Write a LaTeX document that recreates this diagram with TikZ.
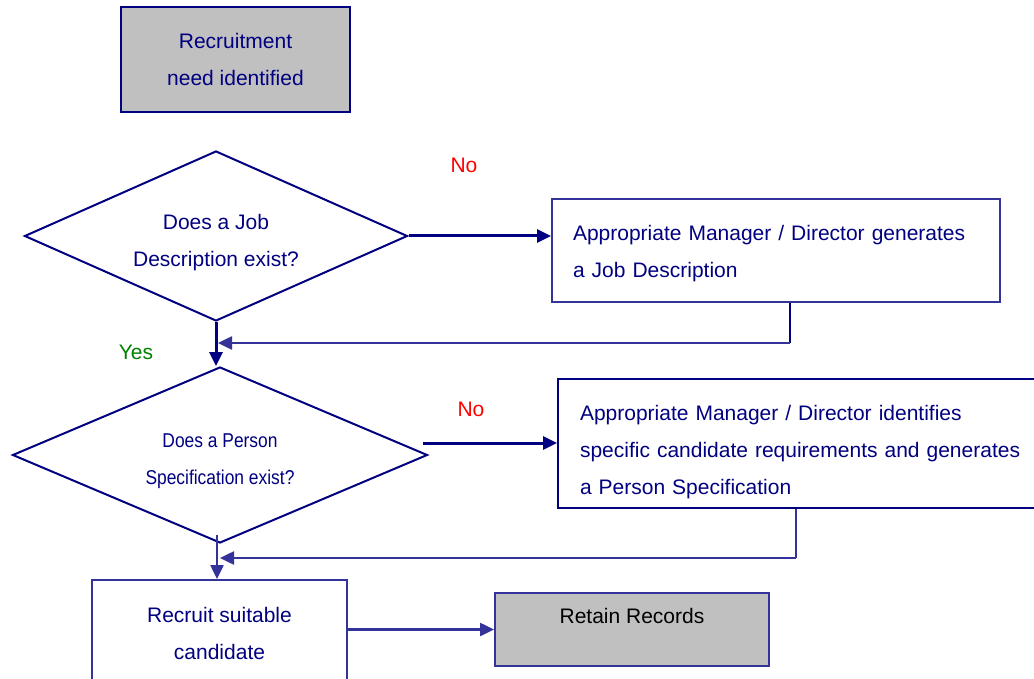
\documentclass[tikz,border=0pt]{standalone}
\usepackage{fontspec}
\setmainfont{Liberation Sans}
\newfontfamily\narrowfont{Liberation Sans}[FakeStretch=0.87]
\usetikzlibrary{shapes.geometric,arrows.meta}
\definecolor{navy}{RGB}{0,0,128}
\definecolor{lineblue}{RGB}{51,51,153}
\definecolor{boxgray}{RGB}{192,192,192}
% invisible strut to push a node's lines down
\newcommand{\pushdown}[1]{\rule{0pt}{#1}}
\begin{document}
\begin{tikzpicture}[
        x=1pt, y=-1pt,
        every node/.style={font=\fontsize{21}{37}\selectfont, text=navy},
        box/.style={draw=navy, line width=2pt, fill=white, inner sep=0pt},
        greybox/.style={box, fill=boxgray},
        dia/.style={draw=navy, diamond, line width=2pt, align=center, inner sep=0pt},
        line/.style={draw=lineblue, line width=2.5pt},
        thick line/.style={draw=navy, line width=3pt},
        >={Triangle[length=14pt,width=13pt]}
    ]
        \useasboundingbox (0,0) rectangle (1034,679);

        % Start, decisions and steps
        \node[greybox, minimum width=229pt, minimum height=105pt, align=center] (need) at (235.5,59.5) {Recruitment\\need identified};
        \node[dia, aspect=2.25, minimum width=383pt, minimum height=170pt] (jd) at (216,236) {\pushdown{27.5pt}Does a Job\\Description exist?};
        \node[box, draw=lineblue, minimum height=103pt, text width=406pt, inner xsep=21pt, align=left] (mkjd) at (776,250.5) {\pushdown{21.5pt}Appropriate Manager / Director generates\\a Job Description};
        \node[dia, aspect=2.36, minimum width=415pt, minimum height=176pt, font=\narrowfont\fontsize{20}{37}\selectfont] (ps) at (220,455) {\pushdown{26.5pt}Does a Person\\Specification exist?};
        \node[box, minimum height=129pt, text width=455pt, inner xsep=22pt, align=left] (mkps) at (807.5,443.5) {\pushdown{31.5pt}Appropriate Manager / Director identifies\\specific candidate requirements and generates\\a Person Specification};
        \node[box, draw=lineblue, minimum width=255pt, minimum height=106pt, align=center] (rec) at (219.5,633) {Recruit suitable\\candidate};
        \node[greybox, draw=lineblue, minimum width=274pt, text height=15pt, text depth=28pt, inner ysep=15pt, text=black] (keep) at (632,629.5) {Retain Records};

        % Yes / No labels
        \node[text=red] (no1) at (464,165) {No};
        \node[text=red] (no2) at (471,409) {No};
        \node[text=green!50!black] (yes) at (136,352) {Yes};

        % Arrows
        \coordinate (back1) at (790,343);
        \coordinate (out2) at (423,443);
        \coordinate (back2) at (796,558);
        \coordinate (down2) at (217,535);
        \draw[thick line, ->] (jd.east) -- (jd.east -| mkjd.west);
        \draw[navy, line width=2.5pt] (back1 |- mkjd.south) -- (back1);
        \draw[line, ->] (back1) -- ([xshift=2pt]back1 -| jd.south);
        \draw[thick line, ->] (jd.south) -- (jd.south |- ps.north);
        \draw[thick line, ->] (out2) -- (out2 -| mkps.west);
        \draw[line] (back2 |- mkps.south) -- (back2);
        \draw[line, ->] (back2) -- ([xshift=3pt]back2 -| down2);
        \draw[line, ->] (down2) -- (down2 |- rec.north);
        \draw[line, ->] (rec.east |- keep.west) -- (keep.west);
    \end{tikzpicture}
\end{document}
